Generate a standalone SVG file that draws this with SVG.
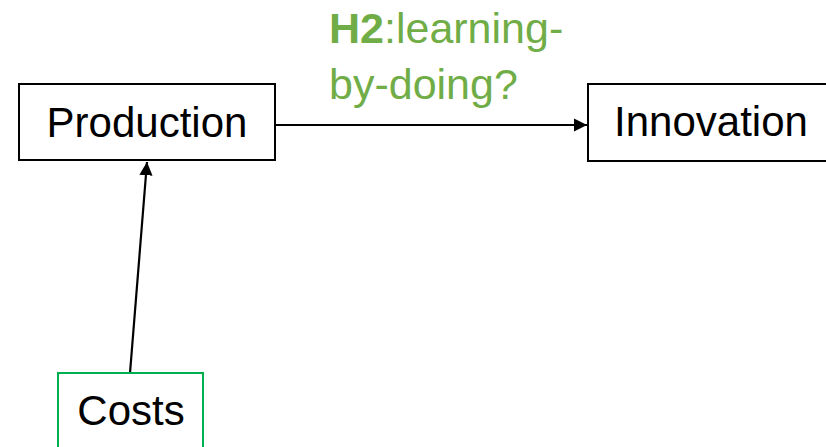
<svg xmlns="http://www.w3.org/2000/svg" width="826" height="447" viewBox="0 0 826 447">
<defs>
<style>
.box{fill:#fff;stroke:#000;stroke-width:2}
.green{fill:#fff;stroke:#00B050;stroke-width:2}
.t{font-family:"Liberation Sans",Arial,sans-serif;font-size:42px;fill:#000;text-anchor:middle}
.lbl{font-family:"Liberation Sans",Arial,sans-serif;font-size:43px;fill:#70AD47}
.edge{stroke:#000;stroke-width:2.2;fill:none;marker-end:url(#arr)}
</style>
<marker id="arr" viewBox="0 0 10 10" refX="10" refY="5" markerWidth="6" markerHeight="6" markerUnits="strokeWidth" orient="auto">
<path d="M0,0 L10,5 L0,10 z" fill="#000"/>
</marker>
</defs>
<rect width="826" height="447" fill="#fff"/>
<g id="connectors">
<line class="edge" x1="276" y1="125" x2="587" y2="125"/>
<line class="edge" x1="130" y1="373" x2="147" y2="162"/>
</g>
<g id="production">
<rect class="box" x="19" y="84" width="256" height="76"/>
<text class="t" x="147" y="137">Production</text>
</g>
<g id="innovation">
<rect class="box" x="588" y="84" width="240" height="77"/>
<text class="t" x="711" y="136">Innovation</text>
</g>
<g id="costs">
<rect class="green" x="58" y="373" width="145" height="80"/>
<text class="t" x="131" y="425">Costs</text>
</g>
<g id="label">
<text class="lbl" x="329" y="43"><tspan font-weight="bold">H2</tspan>:learning-</text>
<text class="lbl" x="329" y="99">by-doing?</text>
</g>
</svg>
